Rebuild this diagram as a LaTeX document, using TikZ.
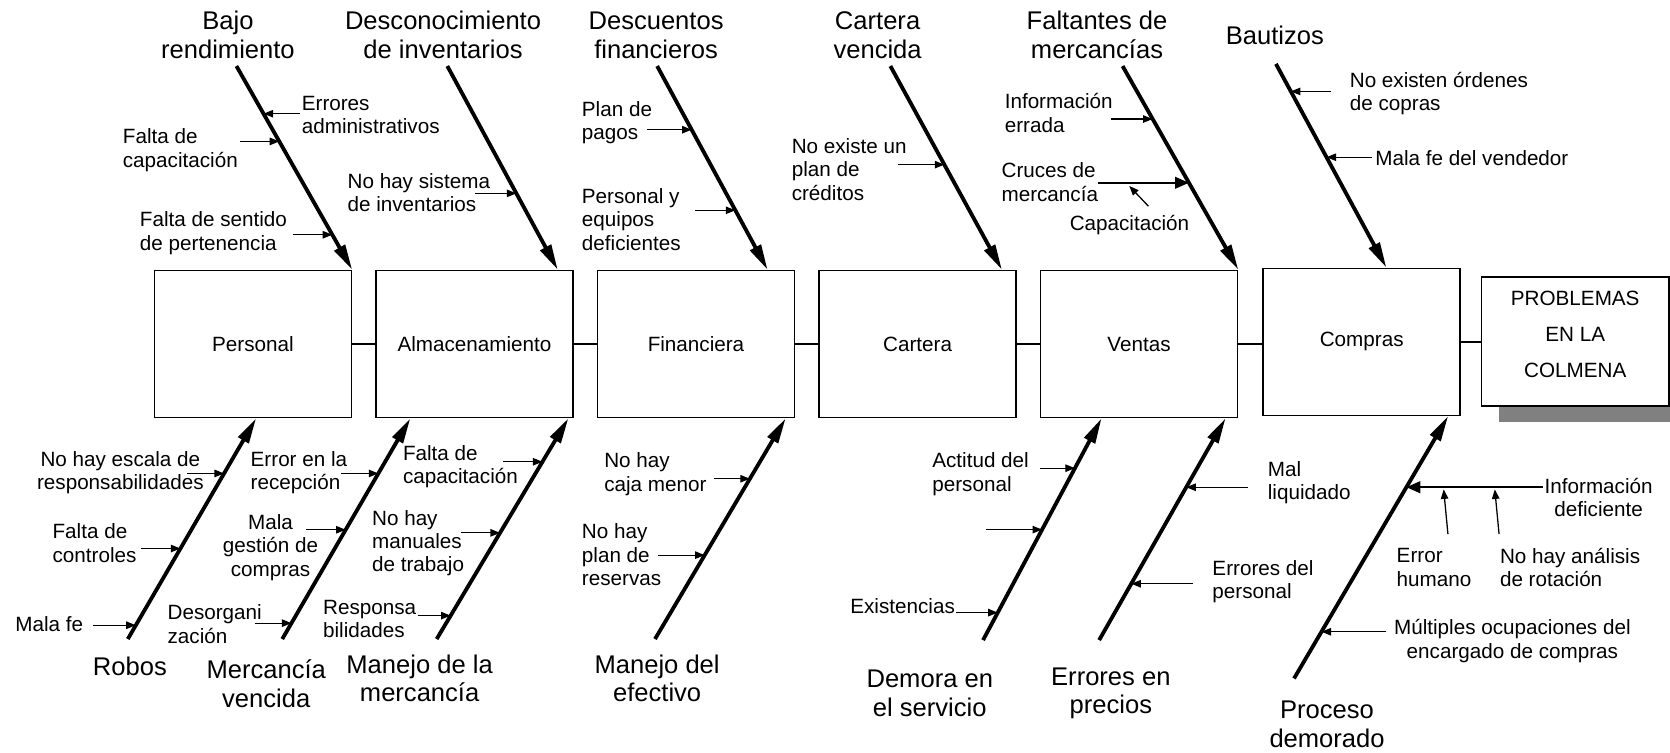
\documentclass[tikz,border=0pt]{standalone}
\usepackage{fontspec}
\setmainfont{Liberation Sans}
\usetikzlibrary{arrows.meta,calc,shadows}

\tikzset{
  causa/.style={font=\fontsize{12}{13.5}\selectfont, align=center, inner sep=0pt},
  sub/.style={font=\fontsize{9.7}{11}\selectfont, align=left, anchor=west, inner sep=0pt},
  subc/.style={font=\fontsize{9.7}{11}\selectfont, align=center, inner sep=0pt},
  caja/.style={draw, line width=0.7pt, fill=white, minimum width=92.5pt, minimum height=69pt,
    inner sep=0pt, font=\fontsize{9.7}{11}\selectfont},
  espina/.style={line width=1.8pt, -{Triangle[length=12pt,width=5.5pt]}},
  flecha/.style={line width=0.6pt, -{Triangle[length=4.5pt,width=3.5pt]}},
  flechag/.style={line width=0.8pt, -{Triangle[length=6.5pt,width=5.5pt]}},
}

\begin{document}
\begin{tikzpicture}[x=0.5pt,y=-0.5pt]
\useasboundingbox (0,0) rectangle (1568,707);

% cajas
\node[caja] at (237.5,323) (per) {Personal};
\node[caja] at (445.5,323) (alm) {Almacenamiento};
\node[caja] at (653.5,323) (fin) {Financiera};
\node[caja] at (861.5,323) (car) {Cartera};
\node[caja] at (1069.5,323) (ven) {Ventas};
\node[caja] at (1278.5,321) (com) {Compras};
\node[caja, minimum width=88pt, minimum height=60.5pt,
  drop shadow={shadow xshift=8pt, shadow yshift=-7.5pt, fill=black!50, opacity=1}]
  at (1479,320.5) (pro) {};
\node[subc, font=\fontsize{9.7}{17}\selectfont] at (1479,314) (prot) {PROBLEMAS\\EN LA\\COLMENA};
\draw[line width=0.6pt] (per.east) -- (alm.west) (alm.east) -- (fin.west)
  (fin.east) -- (car.west) (car.east) -- (ven.west) (ven.east) -- (ven.east -| com.west)
  (com.east) -- (com.east -| pro.west);

% causas de arriba
\node[causa] at (214,33) (bajo) {Bajo\\rendimiento};
\node[causa] at (416,33) (desc) {Desconocimiento\\de inventarios};
\node[causa] at (616,33) (dfin) {Descuentos\\financieros};
\node[causa] at (824,33) (cven) {Cartera\\vencida};
\node[causa] at (1030,33) (falt) {Faltantes de\\mercancías};
\node[causa] at (1197,33) (baut) {Bautizos};

\coordinate (ta1) at (222,62);  \coordinate (tb1) at (per.north east);
\coordinate (ta2) at (420,62);  \coordinate (tb2) at ([xshift=-7.5pt]alm.north east);
\coordinate (ta3) at (617,62);  \coordinate (tb3) at ([xshift=-13pt]fin.north east);
\coordinate (ta4) at (836,62);  \coordinate (tb4) at ([xshift=-7pt]car.north east);
\coordinate (ta5) at (1054,62); \coordinate (tb5) at (ven.north east);
\coordinate (ta6) at (1198,60); \coordinate (tb6) at ([xshift=-35pt]com.north east);
\foreach \i in {1,...,6} \draw[espina] (ta\i) -- (tb\i);

% causas de abajo
\node[causa] at (122,626) (rob) {Robos};
\node[causa] at (250,642) (mven) {Mercancía\\vencida};
\node[causa] at (394,637) (mmer) {Manejo de la\\mercancía};
\node[causa] at (617,637) (mefe) {Manejo del\\efectivo};
\node[causa] at (873,651) (dem) {Demora en\\el servicio};
\node[causa] at (1043,651) (epre) {Errores en\\precios};
\node[causa] at (1246,680) (pdem) {Proceso\\demorado};

\coordinate (ba1) at (120,600);  \coordinate (bb1) at ([xshift=1.5pt]per.south);
\coordinate (ba2) at (265,600);  \coordinate (bb2) at ([xshift=16.5pt]alm.south west);
\coordinate (ba3) at (410,600);  \coordinate (bb3) at ([xshift=-2.5pt]alm.south east);
\coordinate (ba4) at (615,600);  \coordinate (bb4) at ([xshift=-4.5pt]fin.south east);
\coordinate (ba5) at (923,601);  \coordinate (bb5) at ([xshift=29pt]ven.south west);
\coordinate (ba6) at (1032,601); \coordinate (bb6) at ([xshift=-6pt]ven.south east);
\coordinate (ba7) at (1215,637); \coordinate (bb7) at ([xshift=-6pt]com.south east);
\foreach \i in {1,...,7} \draw[espina] (ba\i) -- (bb\i);

% Personal (arriba)
\node[sub] at (283,108) (erad) {Errores\\administrativos};
\node[sub] at (115,141) (fcap) {Falta de\\capacitación};
\node[sub] at (131,219) (fsen) {Falta de sentido\\de pertenencia};
\draw[flecha] ($(ta1)!.234!(tb1)+(34,0)$) -- ($(ta1)!.234!(tb1)$);
\draw[flecha] ($(ta1)!.37!(tb1)+(-37,0)$) -- ($(ta1)!.37!(tb1)$);
\draw[flecha] ($(ta1)!.828!(tb1)+(-37,0)$) -- ($(ta1)!.828!(tb1)$);

% Almacenamiento (arriba)
\node[sub] at (326,181) (nsis) {No hay sistema\\de inventarios};
\draw[flecha] ($(ta2)!.625!(tb2)+(-39,0)$) -- ($(ta2)!.625!(tb2)$);

% Financiera (arriba)
\node[sub] at (546,115) (ppag) {Plan de\\pagos};
\node[sub] at (546,206) (pequ) {Personal y\\equipos\\deficientes};
\draw[flecha] ($(ta3)!.3125!(tb3)+(-42,0)$) -- ($(ta3)!.3125!(tb3)$);
\draw[flecha] ($(ta3)!.708!(tb3)+(-38,0)$) -- ($(ta3)!.708!(tb3)$);

% Cartera (arriba)
\node[sub] at (743,159) (npla) {No existe un\\plan de\\créditos};
\draw[flecha] ($(ta4)!.484!(tb4)+(-44,0)$) -- ($(ta4)!.484!(tb4)$);

% Ventas (arriba)
\node[sub] at (943,106) (ierr) {Información\\errada};
\node[sub] at (940,171) (cruc) {Cruces de\\mercancía};
\node[sub] at (1004,211) (capv) {Capacitación};
\coordinate (cr) at ($(ta5)!.573!(tb5)$);
\draw[flecha] ($(ta5)!.26!(tb5)+(-39,0)$) -- ($(ta5)!.26!(tb5)$);
\draw[flechag] ([xshift=-42.5pt]cr) -- (cr);
\draw[flecha] ($(cr)+(-38,22)$) -- ($(cr)+(-56,3)$);

% Compras (arriba)
\node[sub] at (1267,88) (nord) {No existen órdenes\\de copras};
\node[sub] at (1291,148) (mfev) {Mala fe del vendedor};
\draw[flecha] ($(ta6)!.135!(tb6)+(38,0)$) -- ($(ta6)!.135!(tb6)$);
\draw[flecha] ($(ta6)!.458!(tb6)+(43,0)$) -- ($(ta6)!.458!(tb6)$);

% Robos
\node[subc] at (113,444) (nesc) {No hay escala de\\responsabilidades};
\node[sub] at (49,510) (fcon) {Falta de\\controles};
\node[sub] at (14,586) (mfe) {Mala fe};
\draw[flecha] ($(ba1)!.75!(bb1)+(-35,0)$) -- ($(ba1)!.75!(bb1)$);
\draw[flecha] ($(ba1)!.41!(bb1)+(-37,0)$) -- ($(ba1)!.41!(bb1)$);
\draw[flecha] ($(ba1)!.0625!(bb1)+(-40,0)$) -- ($(ba1)!.0625!(bb1)$);

% Mercancia vencida
\node[sub] at (235,444) (erec) {Error en la\\recepción};
\node[subc] at (254,514) (mges) {Mala\\gestión de\\compras};
\node[sub] at (157,586) (deso) {Desorgani\\zación};
\draw[flecha] ($(ba2)!.75!(bb2)+(-35,0)$) -- ($(ba2)!.75!(bb2)$);
\draw[flecha] ($(ba2)!.495!(bb2)+(-37,0)$) -- ($(ba2)!.495!(bb2)$);
\draw[flecha] ($(ba2)!.072!(bb2)+(-34,0)$) -- ($(ba2)!.072!(bb2)$);

% Manejo de la mercancia
\node[sub] at (378,438) (fcam) {Falta de\\capacitación};
\node[sub] at (349,510) (nman) {No hay\\manuales\\de trabajo};
\node[sub] at (303,581) (resp) {Responsa\\bilidades};
\draw[flecha] ($(ba3)!.803!(bb3)+(-37,0)$) -- ($(ba3)!.803!(bb3)$);
\draw[flecha] ($(ba3)!.481!(bb3)+(-37,0)$) -- ($(ba3)!.481!(bb3)$);
\draw[flecha] ($(ba3)!.106!(bb3)+(-31,0)$) -- ($(ba3)!.106!(bb3)$);

% Manejo del efectivo
\node[sub] at (567,445) (ncaj) {No hay\\caja menor};
\node[sub] at (546,521) (nres) {No hay\\plan de\\reservas};
\draw[flecha] ($(ba4)!.726!(bb4)+(-34,0)$) -- ($(ba4)!.726!(bb4)$);
\draw[flecha] ($(ba4)!.38!(bb4)+(-44,0)$) -- ($(ba4)!.38!(bb4)$);

% Demora en el servicio
\node[sub] at (875,445) (acti) {Actitud del\\personal};
\node[sub] at (798,569) (exis) {Existencias};
\draw[flecha] ($(ba5)!.775!(bb5)+(-33,0)$) -- ($(ba5)!.775!(bb5)$);
\draw[flecha] ($(ba5)!.498!(bb5)+(-53,0)$) -- ($(ba5)!.498!(bb5)$);
\draw[flecha] ($(ba5)!.124!(bb5)+(-39,0)$) -- ($(ba5)!.124!(bb5)$);

% Errores en precios
\node[sub] at (1190,453) (mliq) {Mal\\liquidado};
\node[sub] at (1138,546) (eper) {Errores del\\personal};
\draw[flecha] ($(ba6)!.689!(bb6)+(58,0)$) -- ($(ba6)!.689!(bb6)$);
\draw[flecha] ($(ba6)!.254!(bb6)+(58,0)$) -- ($(ba6)!.254!(bb6)$);

% Proceso demorado
\node[subc] at (1501,467) (idef) {Información\\deficiente};
\node[sub] at (1311,533) (ehum) {Error\\humano};
\node[sub] at (1408,533) (nana) {No hay análisis\\de rotación};
\node[subc] at (1420,602) (mult) {Múltiples ocupaciones del\\encargado de compras};
\coordinate (inf) at ($(ba7)!.729!(bb7)$);
\draw[flechag] ([xshift=64pt]inf) -- (inf);
\draw[flecha] ($(inf)+(39,44)$) -- ($(inf)+(35,2)$);
\draw[flecha] ($(inf)+(87,44)$) -- ($(inf)+(83,2)$);
\draw[flecha] ($(ba7)!.178!(bb7)+(61,0)$) -- ($(ba7)!.178!(bb7)$);

\end{tikzpicture}
\end{document}
